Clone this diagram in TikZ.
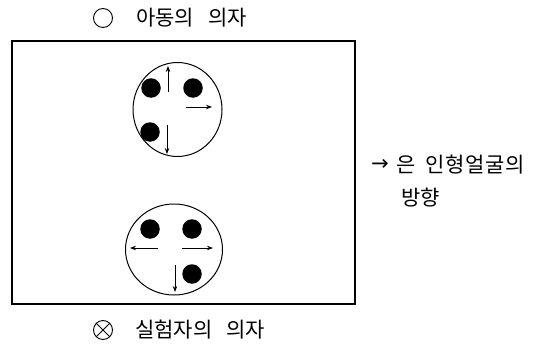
\documentclass[tikz,border=0pt]{standalone}
\usepackage{fontspec}
\setmainfont{Noto Sans CJK KR}
\newfontfamily\djv{DejaVu Sans}
\usetikzlibrary{arrows.meta}
\begin{document}
\begin{tikzpicture}[x=1pt,y=-1pt,
  lbl/.style={anchor=west,inner sep=0pt,font=\fontsize{21}{25}\selectfont},
  dot/.style={circle,fill=black,inner sep=0pt,minimum size=19.5pt},
  face/.style={draw,line width=0.9pt,-{Stealth[length=6pt,width=4.5pt]}},
  seat/.style={draw,line width=1pt,ellipse}]
\useasboundingbox (0,0) rectangle (543,345);
% room
\draw[line width=1.2pt] (12,41) rectangle (355,304);
% top legend
\node[draw,circle,line width=0.9pt,minimum size=19pt,inner sep=0pt] (childsym) at (103,18) {};
\node[lbl] (child1) at (136,18) {아동의};
\node[lbl] (child2) at (208,18) {의자};
% bottom legend
\node[draw,circle,line width=0.9pt,minimum size=19pt,inner sep=0pt] (expsym) at (103,330) {};
\draw[line width=0.9pt] (expsym.north west) -- (expsym.south east) (expsym.north east) -- (expsym.south west);
\node[lbl] (exp1) at (135,330) {실험자의};
\node[lbl] (exp2) at (226,330) {의자};
% right note
\node[lbl] (noteA) at (371,165) {{\djv →}};
\node[lbl] (noteB) at (396,165) {은};
\node[lbl] (noteC) at (425,165) {\addfontfeature{LetterSpace=4}인형얼굴의};
\node[lbl] (noteD) at (401,198) {방향};
% upper seat (child)
\draw[line width=1pt] (177.5,109.5) ellipse [x radius=44.5, y radius=47];
\node[dot] (u1) at (151,88) {};
\node[dot] (u2) at (193,88) {};
\node[dot] (u3) at (150,132) {};
\coordinate (ua0) at (168,92);  \coordinate (ua1) at (168,66);
\coordinate (ub0) at (186,107); \coordinate (ub1) at (212,107);
\coordinate (uc0) at (167,125); \coordinate (uc1) at (167,154);
\draw[face] (ua0) -- (ua1);
\draw[face] (ub0) -- (ub1);
\draw[face] (uc0) -- (uc1);
% lower seat (experimenter)
\draw[line width=1pt] (174,249.5) ellipse [x radius=48.5, y radius=45.5];
\node[dot] (l1) at (150,229) {};
\node[dot] (l2) at (192,229) {};
\node[dot] (l3) at (192,274) {};
\coordinate (la0) at (158,248); \coordinate (la1) at (130,248);
\coordinate (lb0) at (182,248); \coordinate (lb1) at (213,248);
\coordinate (lc0) at (175,265); \coordinate (lc1) at (175,292);
\draw[face] (la0) -- (la1);
\draw[face] (lb0) -- (lb1);
\draw[face] (lc0) -- (lc1);
\end{tikzpicture}
\end{document}
